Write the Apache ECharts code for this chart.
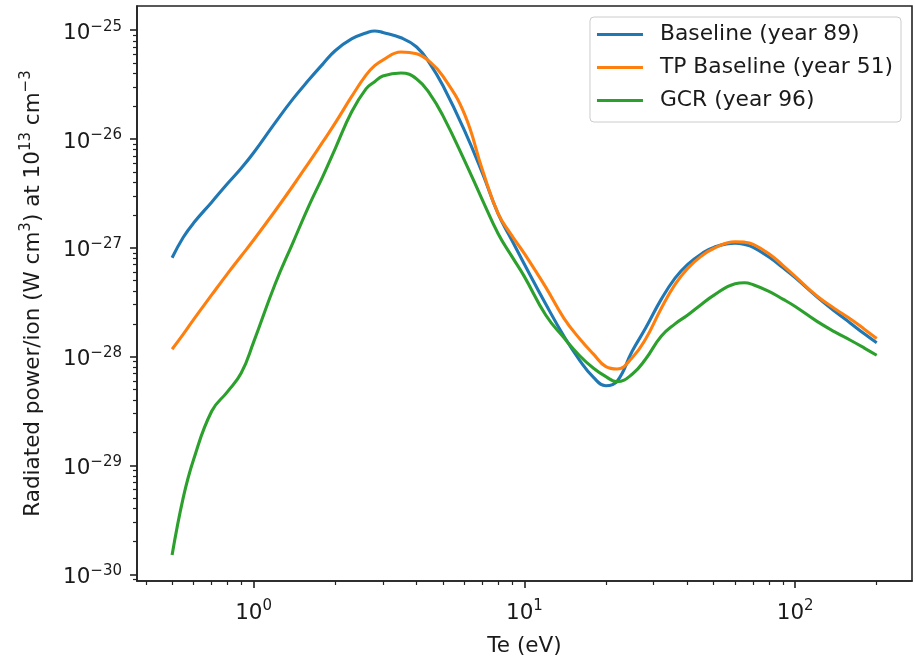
<!DOCTYPE html>
<html>
<head>
<meta charset="utf-8">
<script src="https://cdn.jsdelivr.net/npm/echarts@6/dist/echarts.min.js"></script>
<style>
html,body{margin:0;padding:0;background:#fff;}
#chart{width:915px;height:658px;}
</style>
</head>
<body>
<div id="chart"></div>
<script>
// Te (eV)
const te = [0.5, 0.55, 0.6, 0.7, 0.8, 0.9, 1.0, 1.2, 1.4, 1.6, 1.8, 2.0, 2.3, 2.6, 2.8, 3.0, 3.5, 4.0, 4.5, 5.0,
  6, 7, 8, 9, 10, 12, 14, 16, 18, 20, 22, 25, 28, 32, 36, 40, 45, 50, 60, 65, 70, 80, 90, 100, 120, 140, 160, 180, 200];
// Baseline (year 89), W cm^3
const baseline = [8.1e-28, 1.25e-27, 1.69e-27, 2.63e-27, 3.88e-27, 5.39e-27, 7.48e-27, 1.41e-26, 2.35e-26, 3.50e-26, 4.88e-26,
  6.48e-26, 8.32e-26, 9.43e-26, 9.85e-26, 9.53e-26, 8.53e-26, 7.01e-26, 4.84e-26, 3.10e-26,
  1.21e-26, 4.85e-27, 2.05e-27, 1.17e-27, 7.07e-28, 3.03e-28, 1.54e-28, 9.25e-29, 6.44e-29, 5.40e-29, 5.94e-29,
  1.12e-28, 1.82e-28, 3.36e-28, 5.27e-28, 7.02e-28, 8.79e-28, 1.01e-27, 1.105e-27, 1.075e-27, 1.01e-27, 8.23e-28, 6.58e-28,
  5.33e-28, 3.56e-28, 2.61e-28, 2.03e-28, 1.62e-28, 1.34e-28];
// TP Baseline (year 51)
const tpBaseline = [1.17e-28, 1.61e-28, 2.19e-28, 3.69e-28, 5.77e-28, 8.41e-28, 1.18e-27, 2.18e-27, 3.74e-27, 6.08e-27, 9.40e-27,
  1.40e-26, 2.45e-26, 3.87e-26, 4.72e-26, 5.32e-26, 6.30e-26, 6.09e-26, 5.07e-26, 3.79e-26,
  1.71e-26, 5.20e-27, 2.06e-27, 1.29e-27, 8.84e-28, 4.33e-28, 2.25e-28, 1.46e-28, 1.054e-28, 8.08e-29, 7.69e-29,
  9.77e-29, 1.445e-28, 2.77e-28, 4.61e-28, 6.43e-28, 8.39e-28, 9.87e-28, 1.138e-27, 1.128e-27, 1.077e-27, 8.83e-28, 6.91e-28,
  5.46e-28, 3.63e-28, 2.76e-28, 2.22e-28, 1.79e-28, 1.467e-28];
// GCR (year 96)
const gcr = [1.50e-30, 5.09e-30, 1.13e-29, 3.15e-29, 4.75e-29, 7.07e-29, 1.36e-28, 4.63e-28, 1.13e-27, 2.43e-27, 4.52e-27,
  8.14e-27, 1.77e-26, 2.89e-26, 3.36e-26, 3.79e-26, 4.05e-26, 3.57e-26, 2.55e-26, 1.64e-26,
  6.41e-27, 2.75e-27, 1.35e-27, 8.30e-28, 5.44e-28, 2.40e-28, 1.49e-28, 1.02e-28, 7.81e-29, 6.54e-29, 5.88e-29,
  6.89e-29, 9.46e-29, 1.54e-28, 2.00e-28, 2.40e-28, 3.02e-28, 3.66e-28, 4.68e-28, 4.78e-28, 4.58e-28, 3.98e-28, 3.38e-28,
  2.89e-28, 2.12e-28, 1.69e-28, 1.415e-28, 1.20e-28, 1.03e-28];

const seriesNames = ['Baseline (year 89)', 'TP Baseline (year 51)', 'GCR (year 96)'];
const colors = ['#1f77b4', '#ff7f0e', '#2ca02c'];

// y values are plotted in units of 1e-30 W cm^3 (ECharts' log scale rounds
// extents to 10 decimals); labels show the true powers of ten.
const UNIT_EXP = -30;
const UNIT = 1e-30;

// tick positions
const xMajor = [1, 10, 100];
const xMinor = [0.4, 0.5, 0.6, 0.7, 0.8, 0.9, 2, 3, 4, 5, 6, 7, 8, 9, 20, 30, 40, 50, 60, 70, 80, 90, 200];
const yMajorExp = [-30, -29, -28, -27, -26, -25];
const yMajor = yMajorExp.map(e => Math.pow(10, e - UNIT_EXP));
const yMinor = [];
[-31, -30, -29, -28, -27, -26].forEach(e => {
  for (let m = 2; m <= 9; m++) yMinor.push(m * Math.pow(10, e - UNIT_EXP));
});

const xMin = 0.371, xMax = 270;
const yMin = 8.67e-31 / UNIT, yMax = 1.67e-25 / UNIT;

const FONT = 'DejaVu Sans';
const TXT = '#1a1a1a';
const FS = 21.5, SFS = 15;

function supX(v) {
  const e = Math.round(Math.log10(v));
  return '10{s|' + (e < 0 ? '\u2212' + (-e) : String(e)) + '}';
}
function supY(v) {
  const e = Math.round(Math.log10(v)) + UNIT_EXP;
  return '10{s|' + (e < 0 ? '\u2212' + (-e) : String(e)) + '}';
}
const supRich = { s: { fontFamily: FONT, fontSize: SFS, lineHeight: 15, verticalAlign: 'top', color: TXT } };
const labelStyle = {
  fontFamily: FONT, fontSize: FS, color: TXT, lineHeight: 28, padding: [6, 0, 0, 0], rich: supRich
};

function mk(arr) { return te.map((t, i) => [t, arr[i] / UNIT]); }

const chart = echarts.init(document.getElementById('chart'), null, { renderer: 'canvas' });
chart.setOption({
  animation: false,
  backgroundColor: '#fff',
  grid: {
    left: 137, right: 3, top: 6, bottom: 77, containLabel: false, outerBoundsMode: 'none',
    show: true, borderColor: '#222', borderWidth: 1.6, backgroundColor: 'transparent'
  },
  legend: {
    orient: 'vertical', right: 14, top: 17,
    icon: 'rect', itemWidth: 46, itemHeight: 3, itemGap: 10,
    padding: [6, 8, 10, 7],
    borderColor: '#cccccc', borderWidth: 1, borderRadius: 4, backgroundColor: 'rgba(255,255,255,0.8)',
    textStyle: { fontFamily: FONT, fontSize: 21.8, color: TXT, lineHeight: 23, padding: [0, 0, 0, 12] },
    data: seriesNames
  },
  xAxis: [{
    type: 'log', logBase: 10, min: xMin, max: xMax,
    name: 'Te (eV)', nameLocation: 'middle', nameGap: 51,
    nameTextStyle: { fontFamily: FONT, fontSize: FS, color: TXT, lineHeight: 28 },
    axisLine: { show: true, lineStyle: { color: '#222', width: 1.6 } },
    axisTick: { show: true, inside: false, length: 7, lineStyle: { color: '#222', width: 1.6 }, customValues: xMajor },
    axisLabel: Object.assign({ show: true, margin: 12, customValues: xMajor, formatter: supX }, labelStyle),
    splitLine: { show: false }, minorTick: { show: false }, minorSplitLine: { show: false }
  }, {
    type: 'log', logBase: 10, min: xMin, max: xMax, position: 'bottom', gridIndex: 0,
    axisLine: { show: false },
    axisTick: { show: true, inside: false, length: 4, lineStyle: { color: '#222', width: 1.2 }, customValues: xMinor },
    axisLabel: { show: false },
    splitLine: { show: false }
  }],
  yAxis: [{
    type: 'log', logBase: 10, min: yMin, max: yMax,
    name: 'Radiated power/ion (W cm{s|3}) at 10{s|13} cm{s|\u22123}',
    nameLocation: 'middle', nameGap: 90, nameRotate: 90,
    nameTextStyle: { fontFamily: FONT, fontSize: FS, color: TXT, lineHeight: 28, rich: supRich },
    axisLine: { show: true, lineStyle: { color: '#222', width: 1.6 } },
    axisTick: { show: true, inside: false, length: 7, lineStyle: { color: '#222', width: 1.6 }, customValues: yMajor },
    axisLabel: Object.assign({ show: true, margin: 15, customValues: yMajor, formatter: supY }, labelStyle),
    splitLine: { show: false }, minorTick: { show: false }
  }, {
    type: 'log', logBase: 10, min: yMin, max: yMax, position: 'left', gridIndex: 0,
    axisLine: { show: false },
    axisTick: { show: true, inside: false, length: 4, lineStyle: { color: '#222', width: 1.2 }, customValues: yMinor },
    axisLabel: { show: false },
    splitLine: { show: false }
  }],
  series: [baseline, tpBaseline, gcr].map((arr, i) => ({
    name: seriesNames[i], type: 'line', xAxisIndex: 0, yAxisIndex: 0,
    data: mk(arr), showSymbol: false, symbol: 'none', smooth: 0.45,
    color: colors[i],
    lineStyle: { color: colors[i], width: 3.1 },
    itemStyle: { color: colors[i] },
    z: 3 + i
  }))
});
</script>
</body>
</html>
